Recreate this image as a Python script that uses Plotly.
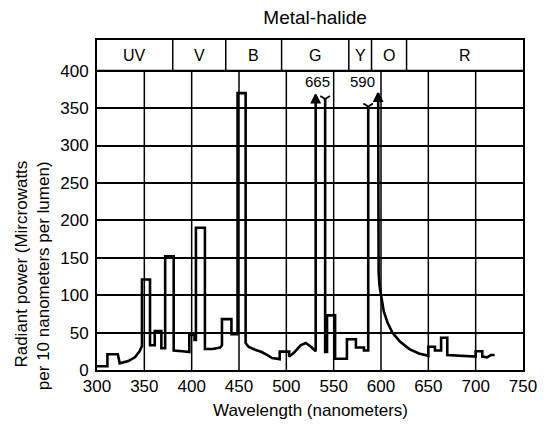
import plotly.graph_objects as go

# ---- data ----
# spectrum outline (nm, microwatts per 10 nm per lumen); None marks the break at off-scale lines
wavelength = [300, 311, 311, 322, 324, 333, 340, 345, 347.5, 347.5,
              356, 356, 361, 361, 368, 368, 372, 372, 381, 381,
              390, 397.5, 397.5, 403, 403, 404.5, 404.5, 414, 414, 422,
              430, 432, 432, 442, 442, 448.5, 448.5, 457, 457, 460,
              467, 474, 480, 485, 493, 493, 503, 503, 508, 515,
              520.5, 526, 531, 531, None, 541, 541, 543, 543, 551.5,
              551.5, 564, 564, 573.5, 573.5, 582, 582, 586.5, 586.5, None,
              597, 597, 597.5, 598.5, 600, 603, 607, 612, 620, 630,
              640, 650, 650, 657, 657, 663.5, 663.5, 670, 670, 685,
              700, 700, 707, 707, 712, 716, 720]
power = [5, 5, 21, 21, 9, 12, 17, 25, 32, 121,
         121, 33, 33, 52, 52, 29, 29, 152, 152, 26,
         25, 24, 47, 47, 40, 40, 190, 190, 28, 28,
         30, 33, 68, 68, 48, 48, 370, 370, 36, 31,
         27, 24, 20, 16, 14.5, 24.5, 24.5, 18, 23, 33,
         36, 31, 25, 368, None, 362, 24, 24, 73, 73,
         15, 15, 41, 41, 30, 30, 26, 26, 352, None,
         370, 200, 130, 112, 100, 78, 63, 50, 38, 28,
         22, 19, 31, 31, 26, 26, 43, 43, 20, 19,
         18, 25, 25, 18, 17, 20, 20]

# off-scale peak heights written above the truncated lines
peak_values = [665, 590]
peak_label_x = [533, 580]

# colour-band strip across the top
band_edges = [300, 380, 436, 495, 566, 590, 627, 750]
band_labels = ["UV", "V", "B", "G", "Y", "O", "R"]

x_ticks = [300, 350, 400, 450, 500, 550, 600, 650, 700, 750]
y_ticks = [0, 50, 100, 150, 200, 250, 300, 350, 400]

BAND_LOW, BAND_TOP = 400, 441
FONT = "Liberation Sans, Arial, sans-serif"
FS = 17

fig = go.Figure()

fig.add_trace(go.Scatter(x=wavelength, y=power, mode="lines",
                         line=dict(color="black", width=2.6),
                         connectgaps=False, hoverinfo="skip", showlegend=False))

# arrow / fork marks at the ends of the truncated lines (taken from the points next to the gaps)
mx, my = [], []
for i, v in enumerate(wavelength):
    if v is None:
        mx += [wavelength[i - 1], wavelength[i + 1]]
        my += [power[i - 1], power[i + 1]]
seq = ["arrow-up", "y-down", "y-down", "arrow-up"]
fig.add_trace(go.Scatter(x=mx, y=my, mode="markers",
                         marker=dict(symbol=seq[:len(mx)], size=8, color="black",
                                     line=dict(color="black", width=1.8)),
                         hoverinfo="skip", showlegend=False))

shapes = []
# vertical grid lines below the band
for t in x_ticks[1:-1]:
    shapes.append(dict(type="line", xref="x", yref="y", x0=t, x1=t, y0=0, y1=BAND_LOW,
                       line=dict(color="black", width=1.5), layer="below"))
# band dividers
for e in band_edges[1:-1]:
    shapes.append(dict(type="line", xref="x", yref="y", x0=e, x1=e, y0=BAND_LOW, y1=BAND_TOP,
                       line=dict(color="black", width=1.5)))
shapes.append(dict(type="line", xref="x", yref="y", x0=band_edges[0], x1=band_edges[-1],
                   y0=BAND_LOW, y1=BAND_LOW, line=dict(color="black", width=2)))

annotations = []
for a, b, lab in zip(band_edges[:-1], band_edges[1:], band_labels):
    annotations.append(dict(x=(a + b) / 2, y=(BAND_LOW + BAND_TOP) / 2, xref="x", yref="y",
                            text=lab, showarrow=False, font=dict(family=FONT, size=16, color="black")))
for px_, val in zip(peak_label_x, peak_values):
    annotations.append(dict(x=px_, y=385, xref="x", yref="y", text=str(val), showarrow=False,
                            font=dict(family=FONT, size=15, color="black")))
# axis titles
annotations.append(dict(x=0.5, y=-0.122, xref="paper", yref="paper", text="Wavelength (nanometers)",
                        showarrow=False, xanchor="center", yanchor="middle",
                        font=dict(family=FONT, size=FS, color="black")))
annotations.append(dict(x=-0.178, y=0.32, xref="paper", yref="paper", text="Radiant power (Mircrowatts",
                        textangle=-90, showarrow=False, xanchor="center", yanchor="middle",
                        font=dict(family=FONT, size=FS, color="black")))
annotations.append(dict(x=-0.124, y=0.285, xref="paper", yref="paper", text="per 10 nanometers per lumen)",
                        textangle=-90, showarrow=False, xanchor="center", yanchor="middle",
                        font=dict(family=FONT, size=FS, color="black")))

fig.update_layout(
    width=549, height=424,
    margin=dict(l=97, r=26, t=40, b=54),
    paper_bgcolor="white", plot_bgcolor="white",
    title=dict(text="Metal-halide", x=0.512, xref="paper", y=0.958, yanchor="middle",
               xanchor="center", font=dict(family=FONT, size=19, color="black")),
    shapes=shapes, annotations=annotations,
    font=dict(family=FONT, size=FS, color="black"),
    xaxis=dict(range=[300, 750], tickvals=x_ticks, showgrid=False, zeroline=False,
               showline=True, mirror=True, linecolor="black", linewidth=2,
               ticks="", tickfont=dict(family=FONT, size=FS, color="black")),
    yaxis=dict(range=[0, BAND_TOP], tickvals=y_ticks, showgrid=True, gridcolor="black",
               gridwidth=1.5, zeroline=False,
               showline=True, mirror=True, linecolor="black", linewidth=2,
               ticks="outside", ticklen=3, tickcolor="rgba(0,0,0,0)",
               tickfont=dict(family=FONT, size=FS, color="black")),
)

fig.write_html("out.html", config={"displayModeBar": False},
               post_script="document.body.style.margin='0';")
